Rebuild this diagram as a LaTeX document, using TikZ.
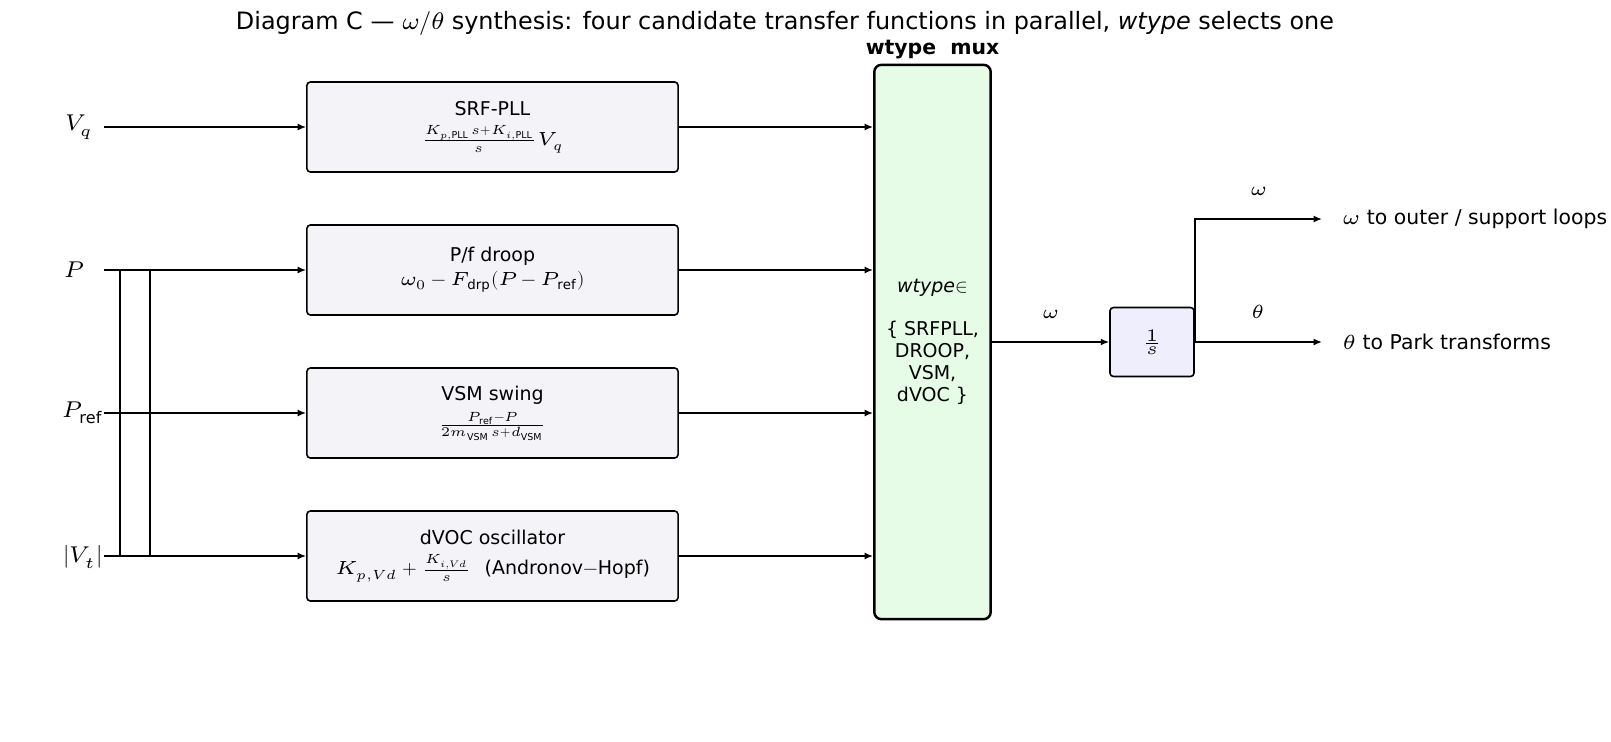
\documentclass[tikz,border=0pt]{standalone}
\usepackage{fontspec}
\setmainfont{DejaVu Sans}
\usepackage{unicode-math}
\setmathfont{Latin Modern Math}
\usetikzlibrary{arrows.meta}
\definecolor{boxfill}{HTML}{F4F4F8}
\definecolor{muxfill}{HTML}{E6FCE6}
\definecolor{intfill}{HTML}{EEEEFC}
\begin{document}
\begin{tikzpicture}[x=0.01cm,y=-0.01cm,
  blk/.style={draw,line width=0.45pt,rounded corners=1pt,fill=boxfill,minimum width=3.71cm,minimum height=0.9cm,align=center,font=\fontsize{5.4}{6.6}\selectfont},
  arr/.style={-{Latex[length=2.4pt,width=2pt]},line width=0.45pt},
  ln/.style={line width=0.45pt},
  inl/.style={font=\fontsize{6.5}{7}\selectfont},
  lab/.style={font=\fontsize{5.4}{6.5}\selectfont}]
\useasboundingbox (0,0) rectangle (1611,742);
\node[font=\fontsize{6.8}{8}\selectfont] (title) at (785,23) {Diagram C — $\omega/\theta$ synthesis: four candidate transfer functions in parallel, \textit{wtype} selects one};
% inputs
\node[inl] (vq) at (79,127) {$V_q$};
\node[inl] (p) at (74,270) {$P$};
\node[inl] (pref) at (83,413) {$P_{\mathrm{ref}}$};
\node[inl] (vt) at (83,557) {$|V_t|$};
\coordinate (vqs) at (104,127);
\coordinate (ps) at (104,270);
\coordinate (prefs) at (104,413);
\coordinate (vts) at (104,556);
% blocks
\node[blk] (b1) at (492.5,127) {SRF-PLL\\[2pt]$\frac{K_{p,\mathrm{PLL}}\,s+K_{i,\mathrm{PLL}}}{s}V_q$};
\node[blk] (b2) at (492.5,270) {P/f droop\\$\omega_0-F_{\mathrm{drp}}(P-P_{\mathrm{ref}})$};
\node[blk] (b3) at (492.5,413) {VSM swing\\[2pt]$\frac{P_{\mathrm{ref}}-P}{2m_{\mathrm{VSM}}\,s+d_{\mathrm{VSM}}}$};
\node[blk] (b4) at (492.5,556) {dVOC oscillator\\[2pt]$K_{p,Vd}+\frac{K_{i,Vd}}{s}$\ \ (Andronov$-$Hopf)};
% mux
\node[draw,line width=0.7pt,rounded corners=2pt,fill=muxfill,minimum width=0.95cm,minimum height=5.54cm,align=center,font=\fontsize{5.4}{6.2}\selectfont] (mux) at (932.5,342) {\textit{wtype}$\in$\\[6pt]\{ SRFPLL,\\DROOP,\\VSM,\\dVOC \}};
\node[font=\bfseries\fontsize{5.8}{7}\selectfont] (muxl) at (932.5,50) {wtype\ \ mux};
% integrator
\node[draw,line width=0.45pt,rounded corners=1pt,fill=intfill,minimum width=0.84cm,minimum height=0.69cm,font=\fontsize{5}{6}\selectfont] (int) at (1152,342) {$\frac{1}{s}$};
% wiring
\draw[arr] (vqs) -- (b1.west);
\draw[arr] (ps) -- (b2.west);
\draw[arr] (prefs) -- (b3.west);
\draw[arr] (vts) -- (b4.west);
\coordinate (j1t) at (120,270); \coordinate (j1b) at (120,556);
\coordinate (j2t) at (150,270); \coordinate (j2b) at (150,556);
\draw[ln] (j1t) -- (j1b);
\draw[ln] (j2t) -- (j2b);
\draw[arr] (b1.east) -- (mux.west |- b1.east);
\draw[arr] (b2.east) -- (mux.west |- b2.east);
\draw[arr] (b3.east) -- (mux.west |- b3.east);
\draw[arr] (b4.east) -- (mux.west |- b4.east);
\draw[arr] (mux.east |- int.west) -- node[above=3pt,lab]{$\omega$} (int.west);
\coordinate (thetaend) at (1322,342);
\coordinate (omegaend) at (1322,219);
\draw[arr] (int.east) -- node[above=3pt,lab]{$\theta$} (thetaend);
\draw[arr] (int.east) |- node[pos=0.75,above=3pt,lab]{$\omega$} (omegaend);
\node[anchor=west,font=\fontsize{5.8}{7}\selectfont] (ot) at (1330,219) {$\omega$ to outer / support loops};
\node[anchor=west,font=\fontsize{5.8}{7}\selectfont] (tt) at (1330,342) {$\theta$ to Park transforms};
\end{tikzpicture}
\end{document}
